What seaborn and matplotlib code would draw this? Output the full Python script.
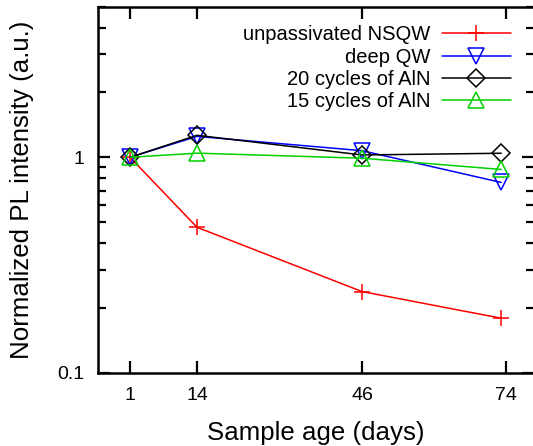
import numpy as np
import pandas as pd
import matplotlib
matplotlib.use("Agg")
import matplotlib.pyplot as plt
import matplotlib.ticker as mticker
import seaborn as sns

# ---- data ----
age_days = [1, 14, 46, 73]
unpassivated = [1.0, 0.473, 0.238, 0.179]
deep_qw = [1.0, 1.25, 1.073, 0.764]
aln20 = [1.0, 1.265, 1.025, 1.044]
aln15 = [1.0, 1.045, 0.99, 0.878]

series_names = ["unpassivated NSQW", "deep QW", "20 cycles of AlN", "15 cycles of AlN"]
series_values = [unpassivated, deep_qw, aln20, aln15]
series_colors = ["#ff0000", "#0000ff", "#000000", "#00d000"]
series_markers = ["+", "v", "D", "^"]
series_msize = [12, 11.5, 9, 11.5]

xticks = [1, 14, 46, 74]
yticks = [0.1, 1]
yticklabels = ["0.1", "1"]

sns.set_theme(style="ticks")
plt.rcParams["font.family"] = ["Liberation Sans", "DejaVu Sans"]
plt.rcParams["text.color"] = "black"
plt.rcParams["axes.labelcolor"] = "black"
plt.rcParams["xtick.color"] = "black"
plt.rcParams["ytick.color"] = "black"

W, H = 533, 446
fig = plt.figure(figsize=(W / 100, H / 100), dpi=100)
ax_l, ax_r, ax_t, ax_b = 98, 534, 6.7, 372.7
ax = fig.add_axes([ax_l / W, 1 - ax_b / H, (ax_r - ax_l) / W, (ax_b - ax_t) / H])

for name, vals, col, mk, ms in zip(series_names, series_values, series_colors,
                                   series_markers, series_msize):
    df = pd.DataFrame({"age": age_days, "val": vals})
    sns.lineplot(data=df, x="age", y="val", ax=ax, color=col, marker=mk,
                 markersize=ms, markerfacecolor="none", markeredgecolor=col,
                 markeredgewidth=1.1, linewidth=1.1, label=name)

for line in ax.lines:
    line.set_markerfacecolor("none")

ax.set_yscale("log")
ax.set_ylim(0.1, 5)
ax.set_xlim(-5.21, 79.35)

ax.yaxis.set_major_locator(mticker.FixedLocator(yticks))
ax.yaxis.set_major_formatter(mticker.FixedFormatter(yticklabels))
ax.yaxis.set_minor_locator(mticker.LogLocator(base=10, subs=np.arange(2, 10)))
ax.yaxis.set_minor_formatter(mticker.NullFormatter())
ax.set_xticks(xticks)
ax.set_xticklabels([str(t) for t in xticks])
ax.xaxis.set_minor_locator(mticker.NullLocator())

for s in ax.spines.values():
    s.set_visible(True)
    s.set_linewidth(1.8)
    s.set_color("black")

ax.tick_params(which="both", direction="in", top=True, right=True,
               color="black", width=1.6)
ax.tick_params(which="major", length=8.6, labelsize=14, labelcolor="black")
ax.tick_params(which="minor", length=6)
ax.tick_params(axis="x", which="major", pad=10)
ax.tick_params(axis="y", which="major", pad=9.5)

ax.set_xlabel("Sample age (days)", fontsize=18.6, color="black")
ax.set_ylabel("Normalized PL intensity (a.u.)", fontsize=18.6, color="black")
ax.xaxis.set_label_coords((316 - ax_l) / (ax_r - ax_l), -(421 - ax_b) / (ax_b - ax_t))
ax.yaxis.set_label_coords(-(ax_l - 34) / (ax_r - ax_l), 0.5)
ax.grid(False)

handles, labels = ax.get_legend_handles_labels()
leg = ax.legend(handles, labels, loc="upper right",
                bbox_to_anchor=(510.7 / W, 1 - 25.5 / H),
                bbox_transform=fig.transFigure, frameon=False,
                markerfirst=False, fontsize=14.5, handlelength=3.4,
                handletextpad=0.6, labelspacing=0.16, borderpad=0,
                borderaxespad=0, numpoints=1)
for t in leg.get_texts():
    t.set_color("black")

fig.savefig("out.png", dpi=100)
